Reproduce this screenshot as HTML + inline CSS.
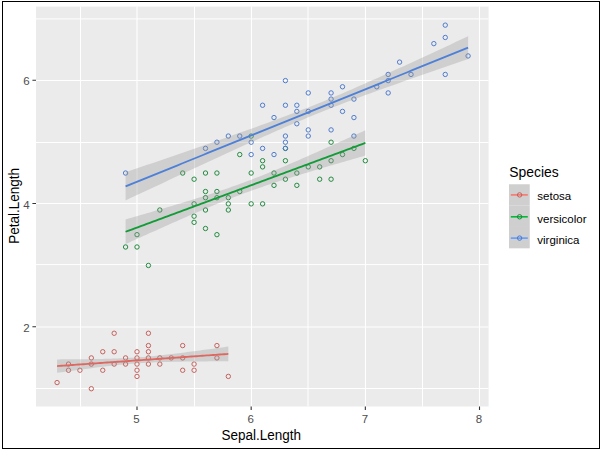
<!DOCTYPE html>
<html><head><meta charset="utf-8"><style>
html,body{margin:0;padding:0;width:600px;height:449px;overflow:hidden;background:#fff;}
body{position:relative;font-family:"Liberation Sans", sans-serif;}
</style></head><body>
<svg width="600" height="449" viewBox="0 0 600 449" style="position:absolute;left:0;top:0">
<rect x="0" y="0" width="600" height="449" fill="#FFFFFF"/>
<rect x="36.0" y="6.6" width="452.60" height="399.90" fill="#EBEBEB"/>
<path d="M80.50 6.6V406.5M194.50 6.6V406.5M308.00 6.6V406.5M422.50 6.6V406.5M36.0 18.90H488.6M36.0 142.50H488.6M36.0 264.60H488.6M36.0 388.50H488.6" stroke="#FFFFFF" stroke-width="1.0" fill="none"/>
<path d="M137.00 6.6V406.5M251.50 6.6V406.5M365.50 6.6V406.5M479.50 6.6V406.5M36.0 80.50H488.6M36.0 203.50H488.6M36.0 327.00H488.6" stroke="#FFFFFF" stroke-width="1.1" fill="none"/>
<path d="M54.88 382.56a2.2 2.2 0 1 0 4.4 0a2.2 2.2 0 1 0 -4.4 0M66.30 370.24a2.2 2.2 0 1 0 4.4 0a2.2 2.2 0 1 0 -4.4 0M66.30 364.08a2.2 2.2 0 1 0 4.4 0a2.2 2.2 0 1 0 -4.4 0M77.71 370.24a2.2 2.2 0 1 0 4.4 0a2.2 2.2 0 1 0 -4.4 0M89.13 388.73a2.2 2.2 0 1 0 4.4 0a2.2 2.2 0 1 0 -4.4 0M89.13 364.08a2.2 2.2 0 1 0 4.4 0a2.2 2.2 0 1 0 -4.4 0M89.13 357.91a2.2 2.2 0 1 0 4.4 0a2.2 2.2 0 1 0 -4.4 0M100.55 370.24a2.2 2.2 0 1 0 4.4 0a2.2 2.2 0 1 0 -4.4 0M100.55 351.75a2.2 2.2 0 1 0 4.4 0a2.2 2.2 0 1 0 -4.4 0M111.97 364.08a2.2 2.2 0 1 0 4.4 0a2.2 2.2 0 1 0 -4.4 0M111.97 351.75a2.2 2.2 0 1 0 4.4 0a2.2 2.2 0 1 0 -4.4 0M111.97 333.26a2.2 2.2 0 1 0 4.4 0a2.2 2.2 0 1 0 -4.4 0M123.38 364.08a2.2 2.2 0 1 0 4.4 0a2.2 2.2 0 1 0 -4.4 0M123.38 357.91a2.2 2.2 0 1 0 4.4 0a2.2 2.2 0 1 0 -4.4 0M134.80 376.40a2.2 2.2 0 1 0 4.4 0a2.2 2.2 0 1 0 -4.4 0M134.80 370.24a2.2 2.2 0 1 0 4.4 0a2.2 2.2 0 1 0 -4.4 0M134.80 364.08a2.2 2.2 0 1 0 4.4 0a2.2 2.2 0 1 0 -4.4 0M134.80 357.91a2.2 2.2 0 1 0 4.4 0a2.2 2.2 0 1 0 -4.4 0M134.80 351.75a2.2 2.2 0 1 0 4.4 0a2.2 2.2 0 1 0 -4.4 0M146.22 364.08a2.2 2.2 0 1 0 4.4 0a2.2 2.2 0 1 0 -4.4 0M146.22 357.91a2.2 2.2 0 1 0 4.4 0a2.2 2.2 0 1 0 -4.4 0M146.22 351.75a2.2 2.2 0 1 0 4.4 0a2.2 2.2 0 1 0 -4.4 0M146.22 345.59a2.2 2.2 0 1 0 4.4 0a2.2 2.2 0 1 0 -4.4 0M146.22 333.26a2.2 2.2 0 1 0 4.4 0a2.2 2.2 0 1 0 -4.4 0M157.63 364.08a2.2 2.2 0 1 0 4.4 0a2.2 2.2 0 1 0 -4.4 0M157.63 357.91a2.2 2.2 0 1 0 4.4 0a2.2 2.2 0 1 0 -4.4 0M169.05 357.91a2.2 2.2 0 1 0 4.4 0a2.2 2.2 0 1 0 -4.4 0M180.47 370.24a2.2 2.2 0 1 0 4.4 0a2.2 2.2 0 1 0 -4.4 0M180.47 357.91a2.2 2.2 0 1 0 4.4 0a2.2 2.2 0 1 0 -4.4 0M180.47 345.59a2.2 2.2 0 1 0 4.4 0a2.2 2.2 0 1 0 -4.4 0M191.89 370.24a2.2 2.2 0 1 0 4.4 0a2.2 2.2 0 1 0 -4.4 0M191.89 364.08a2.2 2.2 0 1 0 4.4 0a2.2 2.2 0 1 0 -4.4 0M214.72 357.91a2.2 2.2 0 1 0 4.4 0a2.2 2.2 0 1 0 -4.4 0M214.72 345.59a2.2 2.2 0 1 0 4.4 0a2.2 2.2 0 1 0 -4.4 0M226.14 376.40a2.2 2.2 0 1 0 4.4 0a2.2 2.2 0 1 0 -4.4 0" stroke="#C25C56" stroke-width="0.95" fill="none"/>
<path d="M123.38 246.99a2.2 2.2 0 1 0 4.4 0a2.2 2.2 0 1 0 -4.4 0M134.80 246.99a2.2 2.2 0 1 0 4.4 0a2.2 2.2 0 1 0 -4.4 0M134.80 234.66a2.2 2.2 0 1 0 4.4 0a2.2 2.2 0 1 0 -4.4 0M146.22 265.48a2.2 2.2 0 1 0 4.4 0a2.2 2.2 0 1 0 -4.4 0M157.63 210.01a2.2 2.2 0 1 0 4.4 0a2.2 2.2 0 1 0 -4.4 0M180.47 173.04a2.2 2.2 0 1 0 4.4 0a2.2 2.2 0 1 0 -4.4 0M191.89 222.34a2.2 2.2 0 1 0 4.4 0a2.2 2.2 0 1 0 -4.4 0M191.89 216.18a2.2 2.2 0 1 0 4.4 0a2.2 2.2 0 1 0 -4.4 0M191.89 203.85a2.2 2.2 0 1 0 4.4 0a2.2 2.2 0 1 0 -4.4 0M191.89 179.20a2.2 2.2 0 1 0 4.4 0a2.2 2.2 0 1 0 -4.4 0M203.30 228.50a2.2 2.2 0 1 0 4.4 0a2.2 2.2 0 1 0 -4.4 0M203.30 210.01a2.2 2.2 0 1 0 4.4 0a2.2 2.2 0 1 0 -4.4 0M203.30 197.69a2.2 2.2 0 1 0 4.4 0a2.2 2.2 0 1 0 -4.4 0M203.30 191.52a2.2 2.2 0 1 0 4.4 0a2.2 2.2 0 1 0 -4.4 0M203.30 173.04a2.2 2.2 0 1 0 4.4 0a2.2 2.2 0 1 0 -4.4 0M214.72 234.66a2.2 2.2 0 1 0 4.4 0a2.2 2.2 0 1 0 -4.4 0M214.72 197.69a2.2 2.2 0 1 0 4.4 0a2.2 2.2 0 1 0 -4.4 0M214.72 191.52a2.2 2.2 0 1 0 4.4 0a2.2 2.2 0 1 0 -4.4 0M214.72 173.04a2.2 2.2 0 1 0 4.4 0a2.2 2.2 0 1 0 -4.4 0M226.14 210.01a2.2 2.2 0 1 0 4.4 0a2.2 2.2 0 1 0 -4.4 0M226.14 203.85a2.2 2.2 0 1 0 4.4 0a2.2 2.2 0 1 0 -4.4 0M226.14 197.69a2.2 2.2 0 1 0 4.4 0a2.2 2.2 0 1 0 -4.4 0M237.55 191.52a2.2 2.2 0 1 0 4.4 0a2.2 2.2 0 1 0 -4.4 0M237.55 154.55a2.2 2.2 0 1 0 4.4 0a2.2 2.2 0 1 0 -4.4 0M248.97 203.85a2.2 2.2 0 1 0 4.4 0a2.2 2.2 0 1 0 -4.4 0M248.97 173.04a2.2 2.2 0 1 0 4.4 0a2.2 2.2 0 1 0 -4.4 0M248.97 136.06a2.2 2.2 0 1 0 4.4 0a2.2 2.2 0 1 0 -4.4 0M260.39 203.85a2.2 2.2 0 1 0 4.4 0a2.2 2.2 0 1 0 -4.4 0M260.39 166.88a2.2 2.2 0 1 0 4.4 0a2.2 2.2 0 1 0 -4.4 0M260.39 160.71a2.2 2.2 0 1 0 4.4 0a2.2 2.2 0 1 0 -4.4 0M271.80 185.36a2.2 2.2 0 1 0 4.4 0a2.2 2.2 0 1 0 -4.4 0M271.80 173.04a2.2 2.2 0 1 0 4.4 0a2.2 2.2 0 1 0 -4.4 0M283.22 179.20a2.2 2.2 0 1 0 4.4 0a2.2 2.2 0 1 0 -4.4 0M283.22 160.71a2.2 2.2 0 1 0 4.4 0a2.2 2.2 0 1 0 -4.4 0M283.22 148.39a2.2 2.2 0 1 0 4.4 0a2.2 2.2 0 1 0 -4.4 0M294.64 185.36a2.2 2.2 0 1 0 4.4 0a2.2 2.2 0 1 0 -4.4 0M294.64 173.04a2.2 2.2 0 1 0 4.4 0a2.2 2.2 0 1 0 -4.4 0M306.06 166.88a2.2 2.2 0 1 0 4.4 0a2.2 2.2 0 1 0 -4.4 0M317.47 179.20a2.2 2.2 0 1 0 4.4 0a2.2 2.2 0 1 0 -4.4 0M317.47 166.88a2.2 2.2 0 1 0 4.4 0a2.2 2.2 0 1 0 -4.4 0M328.89 179.20a2.2 2.2 0 1 0 4.4 0a2.2 2.2 0 1 0 -4.4 0M328.89 160.71a2.2 2.2 0 1 0 4.4 0a2.2 2.2 0 1 0 -4.4 0M328.89 142.22a2.2 2.2 0 1 0 4.4 0a2.2 2.2 0 1 0 -4.4 0M340.31 154.55a2.2 2.2 0 1 0 4.4 0a2.2 2.2 0 1 0 -4.4 0M351.72 148.39a2.2 2.2 0 1 0 4.4 0a2.2 2.2 0 1 0 -4.4 0M363.14 160.71a2.2 2.2 0 1 0 4.4 0a2.2 2.2 0 1 0 -4.4 0" stroke="#1A8639" stroke-width="0.95" fill="none"/>
<path d="M123.38 173.04a2.2 2.2 0 1 0 4.4 0a2.2 2.2 0 1 0 -4.4 0M203.30 148.39a2.2 2.2 0 1 0 4.4 0a2.2 2.2 0 1 0 -4.4 0M214.72 142.22a2.2 2.2 0 1 0 4.4 0a2.2 2.2 0 1 0 -4.4 0M226.14 136.06a2.2 2.2 0 1 0 4.4 0a2.2 2.2 0 1 0 -4.4 0M237.55 136.06a2.2 2.2 0 1 0 4.4 0a2.2 2.2 0 1 0 -4.4 0M248.97 154.55a2.2 2.2 0 1 0 4.4 0a2.2 2.2 0 1 0 -4.4 0M248.97 142.22a2.2 2.2 0 1 0 4.4 0a2.2 2.2 0 1 0 -4.4 0M260.39 148.39a2.2 2.2 0 1 0 4.4 0a2.2 2.2 0 1 0 -4.4 0M260.39 105.25a2.2 2.2 0 1 0 4.4 0a2.2 2.2 0 1 0 -4.4 0M271.80 154.55a2.2 2.2 0 1 0 4.4 0a2.2 2.2 0 1 0 -4.4 0M271.80 117.57a2.2 2.2 0 1 0 4.4 0a2.2 2.2 0 1 0 -4.4 0M283.22 148.39a2.2 2.2 0 1 0 4.4 0a2.2 2.2 0 1 0 -4.4 0M283.22 142.22a2.2 2.2 0 1 0 4.4 0a2.2 2.2 0 1 0 -4.4 0M283.22 136.06a2.2 2.2 0 1 0 4.4 0a2.2 2.2 0 1 0 -4.4 0M283.22 105.25a2.2 2.2 0 1 0 4.4 0a2.2 2.2 0 1 0 -4.4 0M283.22 80.60a2.2 2.2 0 1 0 4.4 0a2.2 2.2 0 1 0 -4.4 0M294.64 123.74a2.2 2.2 0 1 0 4.4 0a2.2 2.2 0 1 0 -4.4 0M294.64 111.41a2.2 2.2 0 1 0 4.4 0a2.2 2.2 0 1 0 -4.4 0M294.64 105.25a2.2 2.2 0 1 0 4.4 0a2.2 2.2 0 1 0 -4.4 0M306.06 136.06a2.2 2.2 0 1 0 4.4 0a2.2 2.2 0 1 0 -4.4 0M306.06 129.90a2.2 2.2 0 1 0 4.4 0a2.2 2.2 0 1 0 -4.4 0M306.06 111.41a2.2 2.2 0 1 0 4.4 0a2.2 2.2 0 1 0 -4.4 0M306.06 92.93a2.2 2.2 0 1 0 4.4 0a2.2 2.2 0 1 0 -4.4 0M328.89 129.90a2.2 2.2 0 1 0 4.4 0a2.2 2.2 0 1 0 -4.4 0M328.89 105.25a2.2 2.2 0 1 0 4.4 0a2.2 2.2 0 1 0 -4.4 0M328.89 99.09a2.2 2.2 0 1 0 4.4 0a2.2 2.2 0 1 0 -4.4 0M328.89 92.93a2.2 2.2 0 1 0 4.4 0a2.2 2.2 0 1 0 -4.4 0M340.31 111.41a2.2 2.2 0 1 0 4.4 0a2.2 2.2 0 1 0 -4.4 0M340.31 86.76a2.2 2.2 0 1 0 4.4 0a2.2 2.2 0 1 0 -4.4 0M351.72 136.06a2.2 2.2 0 1 0 4.4 0a2.2 2.2 0 1 0 -4.4 0M351.72 117.57a2.2 2.2 0 1 0 4.4 0a2.2 2.2 0 1 0 -4.4 0M351.72 99.09a2.2 2.2 0 1 0 4.4 0a2.2 2.2 0 1 0 -4.4 0M374.56 86.76a2.2 2.2 0 1 0 4.4 0a2.2 2.2 0 1 0 -4.4 0M385.97 92.93a2.2 2.2 0 1 0 4.4 0a2.2 2.2 0 1 0 -4.4 0M385.97 80.60a2.2 2.2 0 1 0 4.4 0a2.2 2.2 0 1 0 -4.4 0M385.97 74.44a2.2 2.2 0 1 0 4.4 0a2.2 2.2 0 1 0 -4.4 0M397.39 62.11a2.2 2.2 0 1 0 4.4 0a2.2 2.2 0 1 0 -4.4 0M408.81 74.44a2.2 2.2 0 1 0 4.4 0a2.2 2.2 0 1 0 -4.4 0M431.64 43.63a2.2 2.2 0 1 0 4.4 0a2.2 2.2 0 1 0 -4.4 0M443.06 74.44a2.2 2.2 0 1 0 4.4 0a2.2 2.2 0 1 0 -4.4 0M443.06 37.46a2.2 2.2 0 1 0 4.4 0a2.2 2.2 0 1 0 -4.4 0M443.06 25.14a2.2 2.2 0 1 0 4.4 0a2.2 2.2 0 1 0 -4.4 0M465.89 55.95a2.2 2.2 0 1 0 4.4 0a2.2 2.2 0 1 0 -4.4 0" stroke="#4876CC" stroke-width="0.95" fill="none"/>
<path d="M57.08 359.39L59.25 359.38L61.42 359.37L63.58 359.36L65.75 359.35L67.92 359.34L70.09 359.32L72.26 359.31L74.42 359.29L76.59 359.27L78.76 359.25L80.93 359.23L83.09 359.21L85.26 359.18L87.43 359.16L89.60 359.13L91.77 359.10L93.93 359.06L96.10 359.03L98.27 358.99L100.44 358.94L102.60 358.90L104.77 358.85L106.94 358.80L109.11 358.74L111.28 358.68L113.44 358.61L115.61 358.54L117.78 358.46L119.95 358.37L122.11 358.28L124.28 358.18L126.45 358.07L128.62 357.96L130.79 357.84L132.95 357.71L135.12 357.57L137.29 357.42L139.46 357.26L141.62 357.10L143.79 356.92L145.96 356.74L148.13 356.55L150.30 356.35L152.46 356.14L154.63 355.93L156.80 355.71L158.97 355.48L161.13 355.25L163.30 355.01L165.47 354.77L167.64 354.52L169.81 354.27L171.97 354.01L174.14 353.75L176.31 353.48L178.48 353.22L180.64 352.94L182.81 352.67L184.98 352.39L187.15 352.12L189.32 351.84L191.48 351.55L193.65 351.27L195.82 350.98L197.99 350.69L200.15 350.41L202.32 350.11L204.49 349.82L206.66 349.53L208.83 349.24L210.99 348.94L213.16 348.64L215.33 348.35L217.50 348.05L219.66 347.75L221.83 347.45L224.00 347.15L226.17 346.85L228.34 346.55L228.34 361.28L226.17 361.28L224.00 361.29L221.83 361.30L219.66 361.31L217.50 361.32L215.33 361.33L213.16 361.34L210.99 361.35L208.83 361.36L206.66 361.38L204.49 361.39L202.32 361.41L200.15 361.43L197.99 361.44L195.82 361.47L193.65 361.49L191.48 361.51L189.32 361.54L187.15 361.56L184.98 361.59L182.81 361.62L180.64 361.66L178.48 361.70L176.31 361.74L174.14 361.78L171.97 361.83L169.81 361.88L167.64 361.93L165.47 361.99L163.30 362.06L161.13 362.13L158.97 362.20L156.80 362.28L154.63 362.37L152.46 362.46L150.30 362.57L148.13 362.68L145.96 362.79L143.79 362.92L141.62 363.05L139.46 363.19L137.29 363.35L135.12 363.51L132.95 363.67L130.79 363.85L128.62 364.04L126.45 364.23L124.28 364.43L122.11 364.64L119.95 364.86L117.78 365.08L115.61 365.31L113.44 365.54L111.28 365.79L109.11 366.03L106.94 366.28L104.77 366.54L102.60 366.79L100.44 367.06L98.27 367.32L96.10 367.59L93.93 367.86L91.77 368.14L89.60 368.42L87.43 368.69L85.26 368.98L83.09 369.26L80.93 369.54L78.76 369.83L76.59 370.12L74.42 370.41L72.26 370.70L70.09 370.99L67.92 371.29L65.75 371.58L63.58 371.88L61.42 372.17L59.25 372.47L57.08 372.77Z" fill="#999999" fill-opacity="0.34" stroke="none"/>
<path d="M57.08 366.08L59.25 365.93L61.42 365.77L63.58 365.62L65.75 365.47L67.92 365.31L70.09 365.16L72.26 365.00L74.42 364.85L76.59 364.69L78.76 364.54L80.93 364.39L83.09 364.23L85.26 364.08L87.43 363.92L89.60 363.77L91.77 363.62L93.93 363.46L96.10 363.31L98.27 363.15L100.44 363.00L102.60 362.85L104.77 362.69L106.94 362.54L109.11 362.38L111.28 362.23L113.44 362.08L115.61 361.92L117.78 361.77L119.95 361.61L122.11 361.46L124.28 361.31L126.45 361.15L128.62 361.00L130.79 360.84L132.95 360.69L135.12 360.54L137.29 360.38L139.46 360.23L141.62 360.07L143.79 359.92L145.96 359.77L148.13 359.61L150.30 359.46L152.46 359.30L154.63 359.15L156.80 359.00L158.97 358.84L161.13 358.69L163.30 358.53L165.47 358.38L167.64 358.23L169.81 358.07L171.97 357.92L174.14 357.76L176.31 357.61L178.48 357.46L180.64 357.30L182.81 357.15L184.98 356.99L187.15 356.84L189.32 356.69L191.48 356.53L193.65 356.38L195.82 356.22L197.99 356.07L200.15 355.92L202.32 355.76L204.49 355.61L206.66 355.45L208.83 355.30L210.99 355.15L213.16 354.99L215.33 354.84L217.50 354.68L219.66 354.53L221.83 354.38L224.00 354.22L226.17 354.07L228.34 353.91" stroke="#DE6860" stroke-width="1.85" fill="none"/>
<path d="M125.58 219.40L128.62 218.53L131.65 217.66L134.69 216.79L137.72 215.91L140.76 215.04L143.79 214.16L146.83 213.28L149.86 212.40L152.90 211.51L155.93 210.62L158.97 209.74L162.00 208.84L165.04 207.95L168.07 207.05L171.11 206.15L174.14 205.25L177.18 204.34L180.21 203.43L183.25 202.51L186.28 201.59L189.32 200.66L192.35 199.72L195.39 198.79L198.42 197.84L201.46 196.89L204.49 195.92L207.53 194.95L210.56 193.98L213.60 192.99L216.63 191.99L219.66 190.98L222.70 189.96L225.73 188.92L228.77 187.88L231.80 186.82L234.84 185.74L237.87 184.65L240.91 183.55L243.94 182.43L246.98 181.30L250.01 180.15L253.05 178.99L256.08 177.82L259.12 176.63L262.15 175.42L265.19 174.21L268.22 172.98L271.26 171.74L274.29 170.49L277.33 169.23L280.36 167.96L283.40 166.68L286.43 165.39L289.47 164.09L292.50 162.79L295.54 161.48L298.57 160.16L301.61 158.84L304.64 157.52L307.68 156.18L310.71 154.85L313.75 153.51L316.78 152.16L319.82 150.81L322.85 149.46L325.89 148.11L328.92 146.75L331.96 145.39L334.99 144.03L338.03 142.66L341.06 141.29L344.10 139.93L347.13 138.55L350.17 137.18L353.20 135.81L356.24 134.43L359.27 133.05L362.31 131.67L365.34 130.29L365.34 155.54L362.31 156.41L359.27 157.28L356.24 158.15L353.20 159.02L350.17 159.90L347.13 160.77L344.10 161.65L341.06 162.53L338.03 163.41L334.99 164.30L331.96 165.18L328.92 166.07L325.89 166.96L322.85 167.86L319.82 168.75L316.78 169.66L313.75 170.56L310.71 171.47L307.68 172.38L304.64 173.30L301.61 174.22L298.57 175.15L295.54 176.08L292.50 177.02L289.47 177.97L286.43 178.92L283.40 179.88L280.36 180.85L277.33 181.83L274.29 182.82L271.26 183.81L268.22 184.82L265.19 185.84L262.15 186.88L259.12 187.92L256.08 188.98L253.05 190.06L250.01 191.14L246.98 192.25L243.94 193.36L240.91 194.49L237.87 195.64L234.84 196.80L231.80 197.98L228.77 199.16L225.73 200.37L222.70 201.58L219.66 202.81L216.63 204.05L213.60 205.30L210.56 206.56L207.53 207.83L204.49 209.11L201.46 210.40L198.42 211.69L195.39 212.99L192.35 214.30L189.32 215.62L186.28 216.94L183.25 218.27L180.21 219.60L177.18 220.94L174.14 222.28L171.11 223.62L168.07 224.97L165.04 226.32L162.00 227.68L158.97 229.03L155.93 230.39L152.90 231.76L149.86 233.12L146.83 234.49L143.79 235.86L140.76 237.23L137.72 238.60L134.69 239.98L131.65 241.35L128.62 242.73L125.58 244.11Z" fill="#999999" fill-opacity="0.34" stroke="none"/>
<path d="M125.58 231.75L128.62 230.63L131.65 229.51L134.69 228.38L137.72 227.26L140.76 226.13L143.79 225.01L146.83 223.88L149.86 222.76L152.90 221.63L155.93 220.51L158.97 219.38L162.00 218.26L165.04 217.14L168.07 216.01L171.11 214.89L174.14 213.76L177.18 212.64L180.21 211.51L183.25 210.39L186.28 209.26L189.32 208.14L192.35 207.01L195.39 205.89L198.42 204.77L201.46 203.64L204.49 202.52L207.53 201.39L210.56 200.27L213.60 199.14L216.63 198.02L219.66 196.89L222.70 195.77L225.73 194.64L228.77 193.52L231.80 192.40L234.84 191.27L237.87 190.15L240.91 189.02L243.94 187.90L246.98 186.77L250.01 185.65L253.05 184.52L256.08 183.40L259.12 182.27L262.15 181.15L265.19 180.03L268.22 178.90L271.26 177.78L274.29 176.65L277.33 175.53L280.36 174.40L283.40 173.28L286.43 172.15L289.47 171.03L292.50 169.91L295.54 168.78L298.57 167.66L301.61 166.53L304.64 165.41L307.68 164.28L310.71 163.16L313.75 162.03L316.78 160.91L319.82 159.78L322.85 158.66L325.89 157.54L328.92 156.41L331.96 155.29L334.99 154.16L338.03 153.04L341.06 151.91L344.10 150.79L347.13 149.66L350.17 148.54L353.20 147.41L356.24 146.29L359.27 145.17L362.31 144.04L365.34 142.92" stroke="#129C38" stroke-width="1.85" fill="none"/>
<path d="M125.58 172.26L129.92 170.79L134.25 169.31L138.59 167.83L142.93 166.35L147.26 164.87L151.60 163.38L155.93 161.90L160.27 160.42L164.60 158.93L168.94 157.44L173.27 155.95L177.61 154.46L181.95 152.97L186.28 151.48L190.62 149.98L194.95 148.48L199.29 146.98L203.62 145.48L207.96 143.98L212.29 142.47L216.63 140.96L220.97 139.44L225.30 137.92L229.64 136.40L233.97 134.87L238.31 133.34L242.64 131.80L246.98 130.26L251.31 128.71L255.65 127.15L259.99 125.59L264.32 124.01L268.66 122.43L272.99 120.84L277.33 119.24L281.66 117.62L286.00 116.00L290.33 114.36L294.67 112.70L299.01 111.03L303.34 109.34L307.68 107.64L312.01 105.92L316.35 104.18L320.68 102.43L325.02 100.65L329.35 98.86L333.69 97.05L338.03 95.22L342.36 93.38L346.70 91.53L351.03 89.65L355.37 87.77L359.70 85.87L364.04 83.96L368.37 82.04L372.71 80.11L377.05 78.18L381.38 76.23L385.72 74.27L390.05 72.31L394.39 70.34L398.72 68.37L403.06 66.39L407.40 64.41L411.73 62.42L416.07 60.43L420.40 58.43L424.74 56.43L429.07 54.43L433.41 52.42L437.74 50.41L442.08 48.40L446.42 46.39L450.75 44.38L455.09 42.36L459.42 40.34L463.76 38.32L468.09 36.30L468.09 59.03L463.76 60.52L459.42 62.01L455.09 63.50L450.75 64.99L446.42 66.49L442.08 67.98L437.74 69.48L433.41 70.99L429.07 72.49L424.74 74.00L420.40 75.51L416.07 77.03L411.73 78.54L407.40 80.07L403.06 81.59L398.72 83.13L394.39 84.66L390.05 86.20L385.72 87.75L381.38 89.31L377.05 90.87L372.71 92.45L368.37 94.03L364.04 95.62L359.70 97.22L355.37 98.83L351.03 100.46L346.70 102.10L342.36 103.75L338.03 105.42L333.69 107.11L329.35 108.81L325.02 110.53L320.68 112.26L316.35 114.02L312.01 115.79L307.68 117.58L303.34 119.39L299.01 121.21L294.67 123.05L290.33 124.91L286.00 126.78L281.66 128.66L277.33 130.56L272.99 132.46L268.66 134.38L264.32 136.31L259.99 138.25L255.65 140.20L251.31 142.15L246.98 144.11L242.64 146.08L238.31 148.05L233.97 150.03L229.64 152.01L225.30 154.00L220.97 155.99L216.63 157.99L212.29 159.99L207.96 161.99L203.62 163.99L199.29 166.00L194.95 168.01L190.62 170.03L186.28 172.04L181.95 174.06L177.61 176.08L173.27 178.10L168.94 180.12L164.60 182.14L160.27 184.17L155.93 186.19L151.60 188.22L147.26 190.25L142.93 192.28L138.59 194.31L134.25 196.34L129.92 198.37L125.58 200.40Z" fill="#999999" fill-opacity="0.34" stroke="none"/>
<path d="M125.58 186.33L129.92 184.58L134.25 182.82L138.59 181.07L142.93 179.31L147.26 177.56L151.60 175.80L155.93 174.05L160.27 172.29L164.60 170.54L168.94 168.78L173.27 167.03L177.61 165.27L181.95 163.51L186.28 161.76L190.62 160.00L194.95 158.25L199.29 156.49L203.62 154.74L207.96 152.98L212.29 151.23L216.63 149.47L220.97 147.72L225.30 145.96L229.64 144.21L233.97 142.45L238.31 140.70L242.64 138.94L246.98 137.18L251.31 135.43L255.65 133.67L259.99 131.92L264.32 130.16L268.66 128.41L272.99 126.65L277.33 124.90L281.66 123.14L286.00 121.39L290.33 119.63L294.67 117.88L299.01 116.12L303.34 114.37L307.68 112.61L312.01 110.85L316.35 109.10L320.68 107.34L325.02 105.59L329.35 103.83L333.69 102.08L338.03 100.32L342.36 98.57L346.70 96.81L351.03 95.06L355.37 93.30L359.70 91.55L364.04 89.79L368.37 88.04L372.71 86.28L377.05 84.52L381.38 82.77L385.72 81.01L390.05 79.26L394.39 77.50L398.72 75.75L403.06 73.99L407.40 72.24L411.73 70.48L416.07 68.73L420.40 66.97L424.74 65.22L429.07 63.46L433.41 61.71L437.74 59.95L442.08 58.19L446.42 56.44L450.75 54.68L455.09 52.93L459.42 51.17L463.76 49.42L468.09 47.66" stroke="#4E80D8" stroke-width="1.85" fill="none"/>
<path d="M137.00 406.5V410.1M251.17 406.5V410.1M365.34 406.5V410.1M479.51 406.5V410.1M36.0 326.75H32.4M36.0 203.50H32.4M36.0 80.25H32.4" stroke="#333333" stroke-width="1.1" fill="none"/>
<text x="136.50" y="423.2" font-family='"Liberation Sans", sans-serif' font-size="11.5" fill="#4D4D4D" text-anchor="middle">5</text>
<text x="250.67" y="423.2" font-family='"Liberation Sans", sans-serif' font-size="11.5" fill="#4D4D4D" text-anchor="middle">6</text>
<text x="364.84" y="423.2" font-family='"Liberation Sans", sans-serif' font-size="11.5" fill="#4D4D4D" text-anchor="middle">7</text>
<text x="479.01" y="423.2" font-family='"Liberation Sans", sans-serif' font-size="11.5" fill="#4D4D4D" text-anchor="middle">8</text>
<text x="29.6" y="331.95" font-family='"Liberation Sans", sans-serif' font-size="11.5" fill="#4D4D4D" text-anchor="end">2</text>
<text x="29.6" y="208.70" font-family='"Liberation Sans", sans-serif' font-size="11.5" fill="#4D4D4D" text-anchor="end">4</text>
<text x="29.6" y="85.45" font-family='"Liberation Sans", sans-serif' font-size="11.5" fill="#4D4D4D" text-anchor="end">6</text>
<text transform="translate(261.3,439.7) scale(1,1.1)" font-family='"Liberation Sans", sans-serif' font-size="13.5" fill="#000000" text-anchor="middle">Sepal.Length</text>
<text transform="translate(19.0,205.8) rotate(-90) scale(1,1.1)" x="0" y="0" font-family='"Liberation Sans", sans-serif' font-size="13.5" fill="#000000" text-anchor="middle">Petal.Length</text>
<text x="509.3" y="176.6" font-family='"Liberation Sans", sans-serif' font-size="13.9" fill="#000000">Species</text>
<rect x="509.0" y="184.30" width="20.7" height="21.33" fill="#EBEBEB"/>
<rect x="509.0" y="184.30" width="20.7" height="21.33" fill="#999999" fill-opacity="0.34"/>
<path d="M510.8 194.90H527.8" stroke="#F8766D" stroke-width="1.6"/>
<circle cx="519.6" cy="194.90" r="2.2" stroke="#C25C56" stroke-width="0.95" fill="none"/>
<text x="537.3" y="200.30" font-family='"Liberation Sans", sans-serif' font-size="11.5" fill="#000000">setosa</text>
<rect x="509.0" y="205.63" width="20.7" height="21.33" fill="#EBEBEB"/>
<rect x="509.0" y="205.63" width="20.7" height="21.33" fill="#999999" fill-opacity="0.34"/>
<path d="M510.8 216.80H527.8" stroke="#00BA38" stroke-width="1.6"/>
<circle cx="519.6" cy="216.80" r="2.2" stroke="#1A8639" stroke-width="0.95" fill="none"/>
<text x="537.3" y="222.80" font-family='"Liberation Sans", sans-serif' font-size="11.5" fill="#000000">versicolor</text>
<rect x="509.0" y="226.96" width="20.7" height="21.33" fill="#EBEBEB"/>
<rect x="509.0" y="226.96" width="20.7" height="21.33" fill="#999999" fill-opacity="0.34"/>
<path d="M510.8 238.10H527.8" stroke="#619CFF" stroke-width="1.6"/>
<circle cx="519.6" cy="238.10" r="2.2" stroke="#4876CC" stroke-width="0.95" fill="none"/>
<text x="537.3" y="243.50" font-family='"Liberation Sans", sans-serif' font-size="11.5" fill="#000000">virginica</text>
<rect x="2.5" y="1.5" width="597" height="447" fill="none" stroke="#000000" stroke-width="1.0"/>
</svg>
</body></html>
